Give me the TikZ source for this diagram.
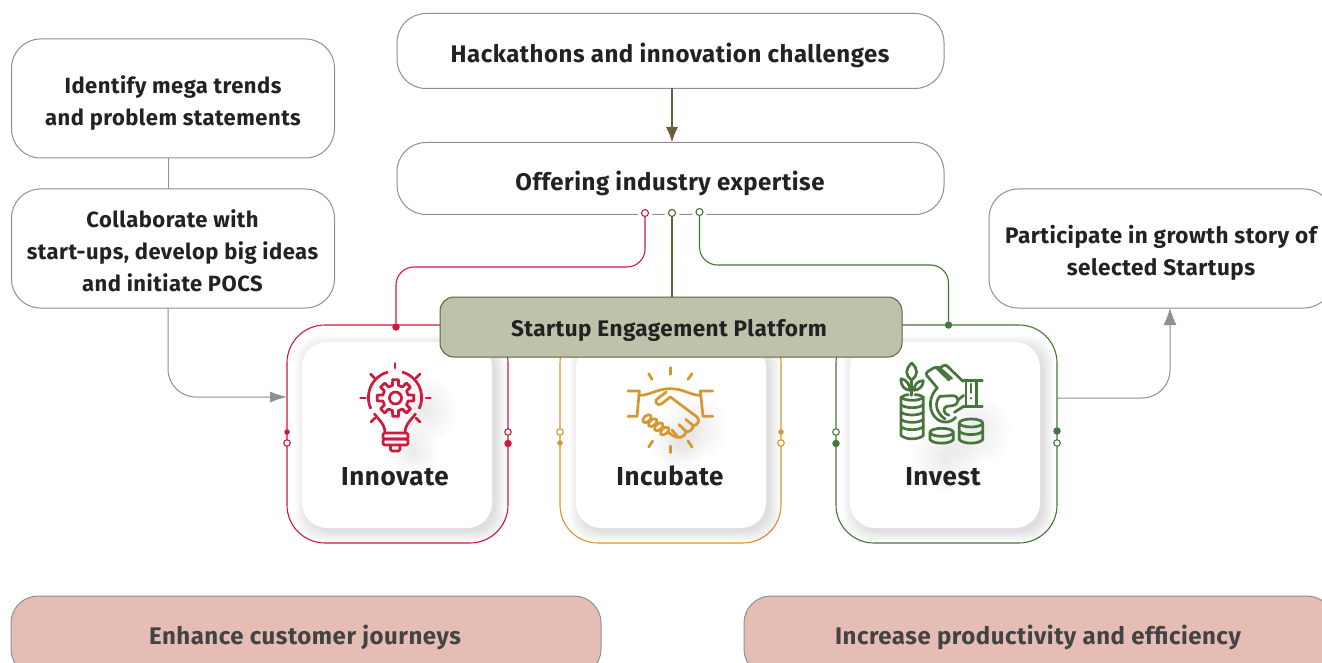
\documentclass[tikz,border=0pt]{standalone}
\usepackage{fontspec}
\setmainfont[LetterSpace=2.2]{Fira Sans}
\usetikzlibrary{arrows.meta}
\definecolor{cgrey}{HTML}{909090}
\definecolor{ctxt}{HTML}{222222}
\definecolor{cred}{HTML}{CE1A3C}
\definecolor{corange}{HTML}{D8962F}
\definecolor{cgreen}{HTML}{47763C}
\definecolor{cbrown}{HTML}{6A5C3A}
\definecolor{cplat}{HTML}{BDC2AA}
\definecolor{cpink}{HTML}{E6BDB5}
\tikzset{
  gbox/.style={draw=cgrey,line width=1pt,fill=white,rounded corners=29pt,inner sep=0pt},
  glabel/.style={align=center,font=\fontsize{22}{32}\selectfont\bfseries,text=ctxt,inner sep=0pt},
  hlabel/.style={font=\fontsize{24}{30}\selectfont\bfseries,text=ctxt,inner sep=0pt},
  pbox/.style={draw=cgrey,line width=1pt,fill=cpink,rounded corners=27pt,inner sep=0pt},
  plabel/.style={font=\fontsize{24}{30}\selectfont\bfseries,text=ctxt!85!white,inner sep=0pt},
  frame/.style={draw=#1,line width=1.1pt,rounded corners=38pt,minimum width=221pt,minimum height=218pt,inner sep=0pt},
  card/.style={fill=white,rounded corners=25pt,minimum width=190pt,minimum height=186pt,inner sep=0pt},
  title/.style={font=\fontsize{26}{30}\selectfont\bfseries,text=ctxt,inner sep=0pt,anchor=base},
  opendot/.style={circle,draw=#1,fill=white,line width=1.1pt,minimum size=6.5pt,inner sep=0pt},
  fulldot/.style={circle,fill=#1,minimum size=5.5pt,inner sep=0pt},
  bigdot/.style={circle,fill=#1,minimum size=7.5pt,inner sep=0pt},
  link/.style={draw=#1,line width=1.1pt,rounded corners=18pt},
  icon/.style={draw=#1,line width=2.7pt,line join=round,line cap=round},
}
\newcommand{\softcard}[4]{%
  \foreach \i in {0,...,15}{
    \fill[black,opacity=.0095,rounded corners=25pt]
      ({#1+5-\i*.8},{#2+5-\i*.8}) rectangle ({#3+3+\i*.75},{#4+3+\i*.75});
  }}
\newcommand{\softblob}[3]{%
  \foreach \i in {1,...,10}{
    \fill[black,opacity=.009] (#1,#2) circle ({#3*\i/10});
  }}
\begin{document}
\begin{tikzpicture}[x=1pt,y=-1pt]
\useasboundingbox (0,0) rectangle (1322,663);
\clip (0,0) rectangle (1322,663);
\fill[white] (0,0) rectangle (1322,663);

% upper boxes
\node[gbox,minimum width=323pt,minimum height=119pt] (trends) at (173,98.5) {};
\node[glabel] (trendstxt) at (173,103) {Identify mega trends\\and problem statements};
\node[gbox,minimum width=323pt,minimum height=119pt] (collab) at (173,248.5) {};
\node[glabel] (collabtxt) at (172.5,251) {Collaborate with\\start-ups, develop big ideas\\and initiate POCS};
\node[gbox,minimum width=547pt,minimum height=75pt] (hack) at (670.5,51) {};
\node[hlabel] (hacktxt) at (670,55) {Hackathons and innovation challenges};
\node[gbox,minimum width=547pt,minimum height=72pt] (offer) at (670.5,178.5) {};
\node[hlabel] (offertxt) at (670,183.5) {Offering industry expertise};
\node[gbox,minimum width=344pt,minimum height=119pt] (part) at (1161,248.5) {};
\node[glabel,font=\fontsize{22.5}{32}\selectfont\bfseries] (parttxt) at (1161,253) {Participate in growth story of\\selected Startups};

% bottom boxes
\node[pbox,minimum width=590pt,minimum height=80pt] (left) at (306,636) {};
\node[plabel] (lefttxt) at (305,637) {Enhance customer journeys};
\node[pbox,minimum width=590pt,minimum height=80pt] (right) at (1039,636) {};
\node[plabel] (righttxt) at (1038,637) {Increase productivity and efficiency};

% frames
\node[frame=cred] (fa) at (397.5,434) {};
\node[frame=corange] (fb) at (670.5,434) {};
\node[frame=cgreen] (fc) at (946.5,434) {};

% cards
\softcard{302}{342}{492}{528}
\softcard{576}{342}{766}{528}
\softcard{850}{342}{1040}{528}
\node[card] (ca) at (397,435) {};
\node[card] (cb) at (671,435) {};
\node[card] (cc) at (945,435) {};
\softblob{424}{410}{34}
\softblob{414}{452}{24}
\softblob{695}{428}{32}
\softblob{678}{445}{26}
\softblob{975}{430}{36}
\softblob{945}{458}{34}

% bulb icon
\begin{scope}[icon=cred]
  \draw[line cap=butt] (402,372) arc[start angle=-75,end angle=25,radius=26.5];
  \draw[line cap=butt] (388,372) arc[start angle=-105,end angle=-205,radius=26.5];
  \draw (374.5,414) .. controls (378,419) and (385,424) .. (385,433);
  \draw (415.5,414) .. controls (412,419) and (405,424) .. (405,433);
  \draw[rounded corners=1.5pt] (383,433) rectangle (408,439);
  \draw[rounded corners=1.5pt] (383,439) rectangle (408,445);
  \draw[rounded corners=1.5pt] (390.5,445) -- (390.5,451) -- (400,451) -- (400,445);
  \draw (395,363.5) -- (395,368);  \draw (360.5,398) -- (365.5,398); \draw (426,398) -- (430.5,398);
  \draw (370.5,374) -- (374.5,378); \draw (420,374) -- (416,378);
  \draw (371,422) -- (375,418); \draw (420,422) -- (416,418);
  \begin{scope}[shift={(395.5,398)}]
    \draw (0,0) circle (6);
    \foreach \a in {0,45,...,315}{
      \draw (\a-9:18.5) -- (\a+9:18.5) -- (\a+13:13) -- (\a+32:13) -- (\a+36:18.5);
    }
  \end{scope}
\end{scope}

% handshake icon (drawn in 3x units)
\begin{scope}[icon=corange,shift={(622,362)},x=.3333pt,y=-.3333pt]
  \draw (145,17) -- (145,37); \draw (80,35) -- (90,52); \draw (210,35) -- (198,52);
  \draw (145,252) -- (145,272); \draw (92,237) -- (80,255); \draw (198,237) -- (210,255);
  \draw (18,87) -- (52,87) -- (45,163) -- (18,163);
  \draw (272,87) -- (235,87) -- (243,163) -- (272,163);
  \draw (52,100) .. controls (85,100) and (105,80) .. (145,80) .. controls (185,80) and (205,100) .. (235,100);
  \foreach \c in {128,110,92,75}{
    \pgfmathsetmacro{\d}{170+(\c-75)*.7}
    \draw[fill=white,rotate around={-50:(\c,\d)}] (\c,\d) ellipse (9 and 15);
  }
  \draw (133,90) -- (104,112) .. controls (96,122) and (108,132) .. (118,126) -- (145,105) -- (225,165)
    .. controls (235,175) and (228,190) .. (214,191)
    .. controls (212,203) and (202,210) .. (193,209)
    .. controls (190,220) and (178,228) .. (168,226)
    .. controls (158,226) and (148,218) .. (138,210);
  \draw (191,172) -- (214,191);
  \draw (171,188) -- (193,209);
  \draw (150,204) -- (168,226);
\end{scope}

% invest icon (drawn in 3x units)
\begin{scope}[icon=cgreen,shift={(895,358)},x=.3333pt,y=-.3333pt]
  % plant
  \draw (50,15) .. controls (30,35) and (30,50) .. (50,66) .. controls (70,50) and (70,35) .. (50,15);
  \draw (50,66) -- (50,112);
  \draw (18,62) .. controls (17,85) and (28,95) .. (45,97) .. controls (45,80) and (35,65) .. (18,62);
  \draw (85,68) .. controls (68,68) and (57,80) .. (57,97) .. controls (72,96) and (85,85) .. (85,68);
  % left stack
  \draw (18,118) .. controls (24,112) and (36,110) .. (40,110);
  \draw (85,118) .. controls (79,112) and (67,110) .. (60,110);
  \draw (18,118) -- (18,232) .. controls (30,246) and (73,246) .. (85,232) -- (85,118);
  \foreach \y in {118,140,162,184,206}{
    \draw (18,\y) .. controls (30,{\y+12}) and (73,{\y+12}) .. (85,\y);
  }
  % middle stack
  \draw (140,223) ellipse (35 and 12);
  \draw (105,223) -- (105,245) .. controls (115,259) and (165,259) .. (175,245) -- (175,223);
  % right stack
  \draw (228,195) ellipse (35 and 12);
  \draw (193,195) -- (193,245) .. controls (205,259) and (251,259) .. (263,245) -- (263,195);
  \draw (193,220) .. controls (205,233) and (251,233) .. (263,220);
  % cuff
  \draw (206,68) -- (262,68); \draw (206,145) -- (262,145);
  \draw (213,70) -- (213,143); \draw (245,70) -- (245,143);
  \draw (228,78) -- (228,104); \draw (228,120) -- (228,121);
  % hand
  \draw[rounded corners=3pt] (204,70) -- (150,18) -- (134,32) -- (122,26) -- (90,46) -- (127,90);
  \draw (122,27) -- (162,66);
  \draw (136,32) -- (170,62);
  \draw (127,90) .. controls (105,110) and (98,150) .. (118,175) .. controls (135,197) and (165,198) .. (182,178);
  \draw (135,115) -- (172,113) .. controls (195,113) and (195,140) .. (172,143) -- (155,145);
  \draw (135,115) .. controls (120,130) and (118,160) .. (150,183);
  \draw (190,125) -- (206,112);
  \draw (178,163) -- (206,145);
  \draw (155,145) .. controls (142,150) and (145,168) .. (162,172);
\end{scope}

% platform
\node[draw=cbrown,fill=cplat,line width=1pt,rounded corners=14pt,minimum width=462pt,minimum height=60pt,inner sep=0pt] (plat) at (671,327) {};
\node[inner sep=0pt,font=\fontsize{22.5}{26}\selectfont\bfseries,text=ctxt] (plattxt) at (669,330) {Startup Engagement Platform};

% titles
\node[title] (ta) at (395,485) {Innovate};
\node[title] (tb) at (670,485) {Incubate};
\node[title] (tc) at (943,485) {Invest};

% dots on the frames
\node[fulldot=cred] (a1) at (287,432) {};
\node[opendot=cred] (a2) at (287,443) {};
\node[opendot=cred] (a3) at (508,432) {};
\node[bigdot=cred] (a4) at (508,443.5) {};
\node[opendot=corange] (b1) at (560,432) {};
\node[fulldot=corange] (b2) at (560,443) {};
\node[fulldot=corange] (b3) at (781,432) {};
\node[opendot=corange] (b4) at (781,443) {};
\node[opendot=cgreen] (c1) at (836,432) {};
\node[bigdot=cgreen] (c2) at (836,443.5) {};
\node[bigdot=cgreen] (c3) at (1057,431) {};
\node[opendot=cgreen] (c4) at (1057,443) {};
\node[bigdot=cred] (t1) at (396,327) {};
\node[bigdot=cgreen] (t2) at (948.5,325) {};

% junctions under Offering box
\fill[white] (645,213) circle (7.5) (672,213) circle (7.5) (699.5,212) circle (7.5);
\coordinate (r1) at (645,267);
\coordinate (r2) at (396,267);
\coordinate (g1) at (699.5,265);
\coordinate (g2) at (948.5,265);
\coordinate (l1) at (168,397);
\coordinate (inn) at (287,397);
\coordinate (i1) at (1170,398);
\coordinate (pin) at (1170,308);
\node[opendot=cred,minimum size=7pt] (dr) at (645,213) {};
\node[opendot=cbrown,minimum size=7pt] (db) at (672,213) {};
\node[opendot=cgreen,minimum size=7pt] (dg) at (699.5,212) {};

% connectors
\draw[link=cred] (dr) -- (r1) -- (r2) -- (t1);
\draw[link=cgreen] (dg) -- (g1) -- (g2) -- (t2);
\draw[draw=cbrown,line width=1.1pt] (db) -- (db |- plat.north);
\draw[draw=cbrown,line width=1.1pt,-{Latex[length=15pt,width=12pt]}] (672,88.5) -- (672,142);
\draw[draw=cgrey,line width=1pt] (168,158) -- (168,189);
\draw[draw=cgrey,line width=1pt,rounded corners=28pt,-{Latex[length=17pt,width=11pt]}] (168,308) -- (l1) -- (inn);
\draw[draw=cgrey,line width=1pt,rounded corners=28pt,-{Latex[length=17pt,width=13pt]}] (1057,398) -- (i1) -- (pin);
\end{tikzpicture}
\end{document}
